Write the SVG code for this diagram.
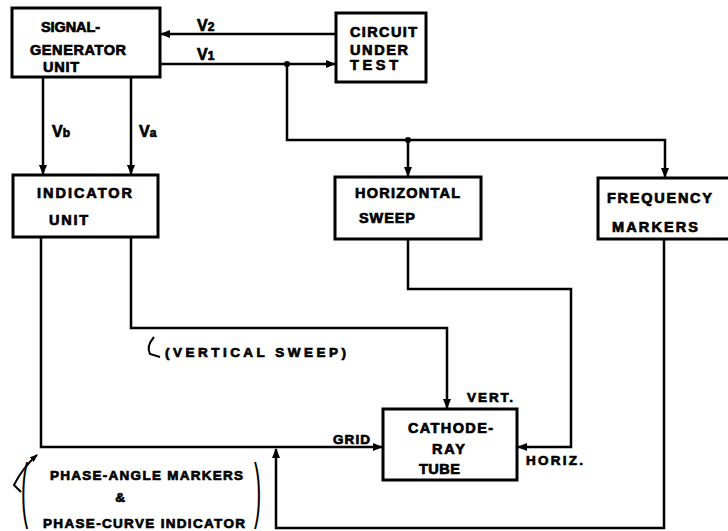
<svg xmlns="http://www.w3.org/2000/svg" width="728" height="531" viewBox="0 0 728 531">
<defs>
<marker id="ar" markerUnits="userSpaceOnUse" markerWidth="10" markerHeight="8" refX="9" refY="4" orient="auto">
<path d="M0,0 L10,4 L0,8 z" fill="#000"/>
</marker>
<marker id="ar2" markerUnits="userSpaceOnUse" markerWidth="8" markerHeight="6" refX="7" refY="3" orient="auto">
<path d="M0,0 L8,3 L0,6 z" fill="#000"/>
</marker>
<style>
.box{fill:#fff;stroke:#000;stroke-width:3}
.ln{fill:none;stroke:#000;stroke-width:2.5}
.thin{fill:none;stroke:#000;stroke-width:2}
.t{font-family:"Liberation Sans",Arial,sans-serif;font-weight:bold;font-size:14.5px;fill:#000;stroke:#000;stroke-width:0.7}
.s{font-size:13.5px}
.v{font-size:16px}
.sub{font-size:12px}
.par{font-family:"Liberation Sans",Arial,sans-serif;font-weight:normal;font-size:72px;fill:#000}
</style>
</defs>
<rect width="728" height="531" fill="#fff"/>

<g id="connectors">
<path class="ln" d="M336,34 H161" marker-end="url(#ar)"/>
<path class="ln" d="M160,64 H335" marker-end="url(#ar)"/>
<path class="ln" d="M287,64 V140 H665 V177" marker-end="url(#ar)"/>
<path class="ln" d="M408,140 V176" marker-end="url(#ar)"/>
<circle cx="287" cy="64" r="3"/>
<circle cx="408" cy="140" r="3"/>
<path class="ln" d="M43,77 V174" marker-end="url(#ar)"/>
<path class="ln" d="M131,77 V174" marker-end="url(#ar)"/>
<path class="ln" d="M41,237 V447 H382" marker-end="url(#ar)"/>
<path class="ln" d="M131,237 V328 H447 V408" marker-end="url(#ar)"/>
<path class="ln" d="M408,239 V289 H571 V447 H518" marker-end="url(#ar)"/>
<path class="ln" d="M664,239 V528 H276 V449" marker-end="url(#ar)"/>
<path class="thin" d="M154,337 Q146,346 150,354 L160,357"/>
<path class="thin" d="M21,492 L14,485 C20,473 28,463 37,455" marker-end="url(#ar2)"/>
</g>

<g id="signal-generator">
<rect class="box" x="12" y="8" width="148" height="69"/>
<text class="t" x="41" y="32" textLength="59">SIGNAL-</text>
<text class="t" x="30" y="55" textLength="96">GENERATOR</text>
<text class="t" x="43" y="72" textLength="36">UNIT</text>
</g>

<g id="circuit-under-test">
<rect class="box" x="336" y="13" width="90" height="69"/>
<text class="t" x="350" y="37" textLength="67">CIRCUIT</text>
<text class="t" x="350" y="55" textLength="58">UNDER</text>
<text class="t" x="350" y="70" textLength="48">TEST</text>
</g>

<g id="indicator-unit">
<rect class="box" x="13" y="175" width="145" height="62"/>
<text class="t" x="37" y="198" textLength="95">INDICATOR</text>
<text class="t" x="49" y="225" textLength="39">UNIT</text>
</g>

<g id="horizontal-sweep">
<rect class="box" x="335" y="177" width="146" height="62"/>
<text class="t" x="355" y="198" textLength="105">HORIZONTAL</text>
<text class="t" x="359" y="223" textLength="56">SWEEP</text>
</g>

<g id="frequency-markers">
<rect class="box" x="598" y="178" width="134" height="61"/>
<text class="t" x="607" y="203" textLength="105">FREQUENCY</text>
<text class="t" x="612" y="232" textLength="86">MARKERS</text>
</g>

<g id="cathode-ray-tube">
<rect class="box" x="383" y="409" width="134" height="71"/>
<text class="t" x="408" y="433" textLength="85">CATHODE-</text>
<text class="t" x="432" y="454" textLength="33">RAY</text>
<text class="t" x="419" y="474" textLength="41">TUBE</text>
</g>

<g id="labels">
<text class="t v" x="197" y="31">V<tspan class="sub">2</tspan></text>
<text class="t v" x="197" y="60">V<tspan class="sub">1</tspan></text>
<text class="t v" x="52" y="137">V<tspan class="sub">b</tspan></text>
<text class="t v" x="139" y="137">V<tspan class="sub">a</tspan></text>
<text class="t s" x="165" y="357" textLength="181">(VERTICAL SWEEP)</text>
<text class="t s" x="333" y="444" textLength="37">GRID</text>
<text class="t s" x="467" y="402" textLength="46">VERT.</text>
<text class="t s" x="526" y="465" textLength="57">HORIZ.</text>
<text class="t s" x="50" y="480" textLength="193">PHASE-ANGLE MARKERS</text>
<text class="t s" x="120" y="502" text-anchor="middle">&amp;</text>
<text class="t s" x="43" y="528" textLength="202">PHASE-CURVE INDICATOR</text>
<text class="par" transform="translate(21,514) scale(0.3,1)">(</text>
<text class="par" transform="translate(254,514) scale(0.3,1)">)</text>
</g>
</svg>
